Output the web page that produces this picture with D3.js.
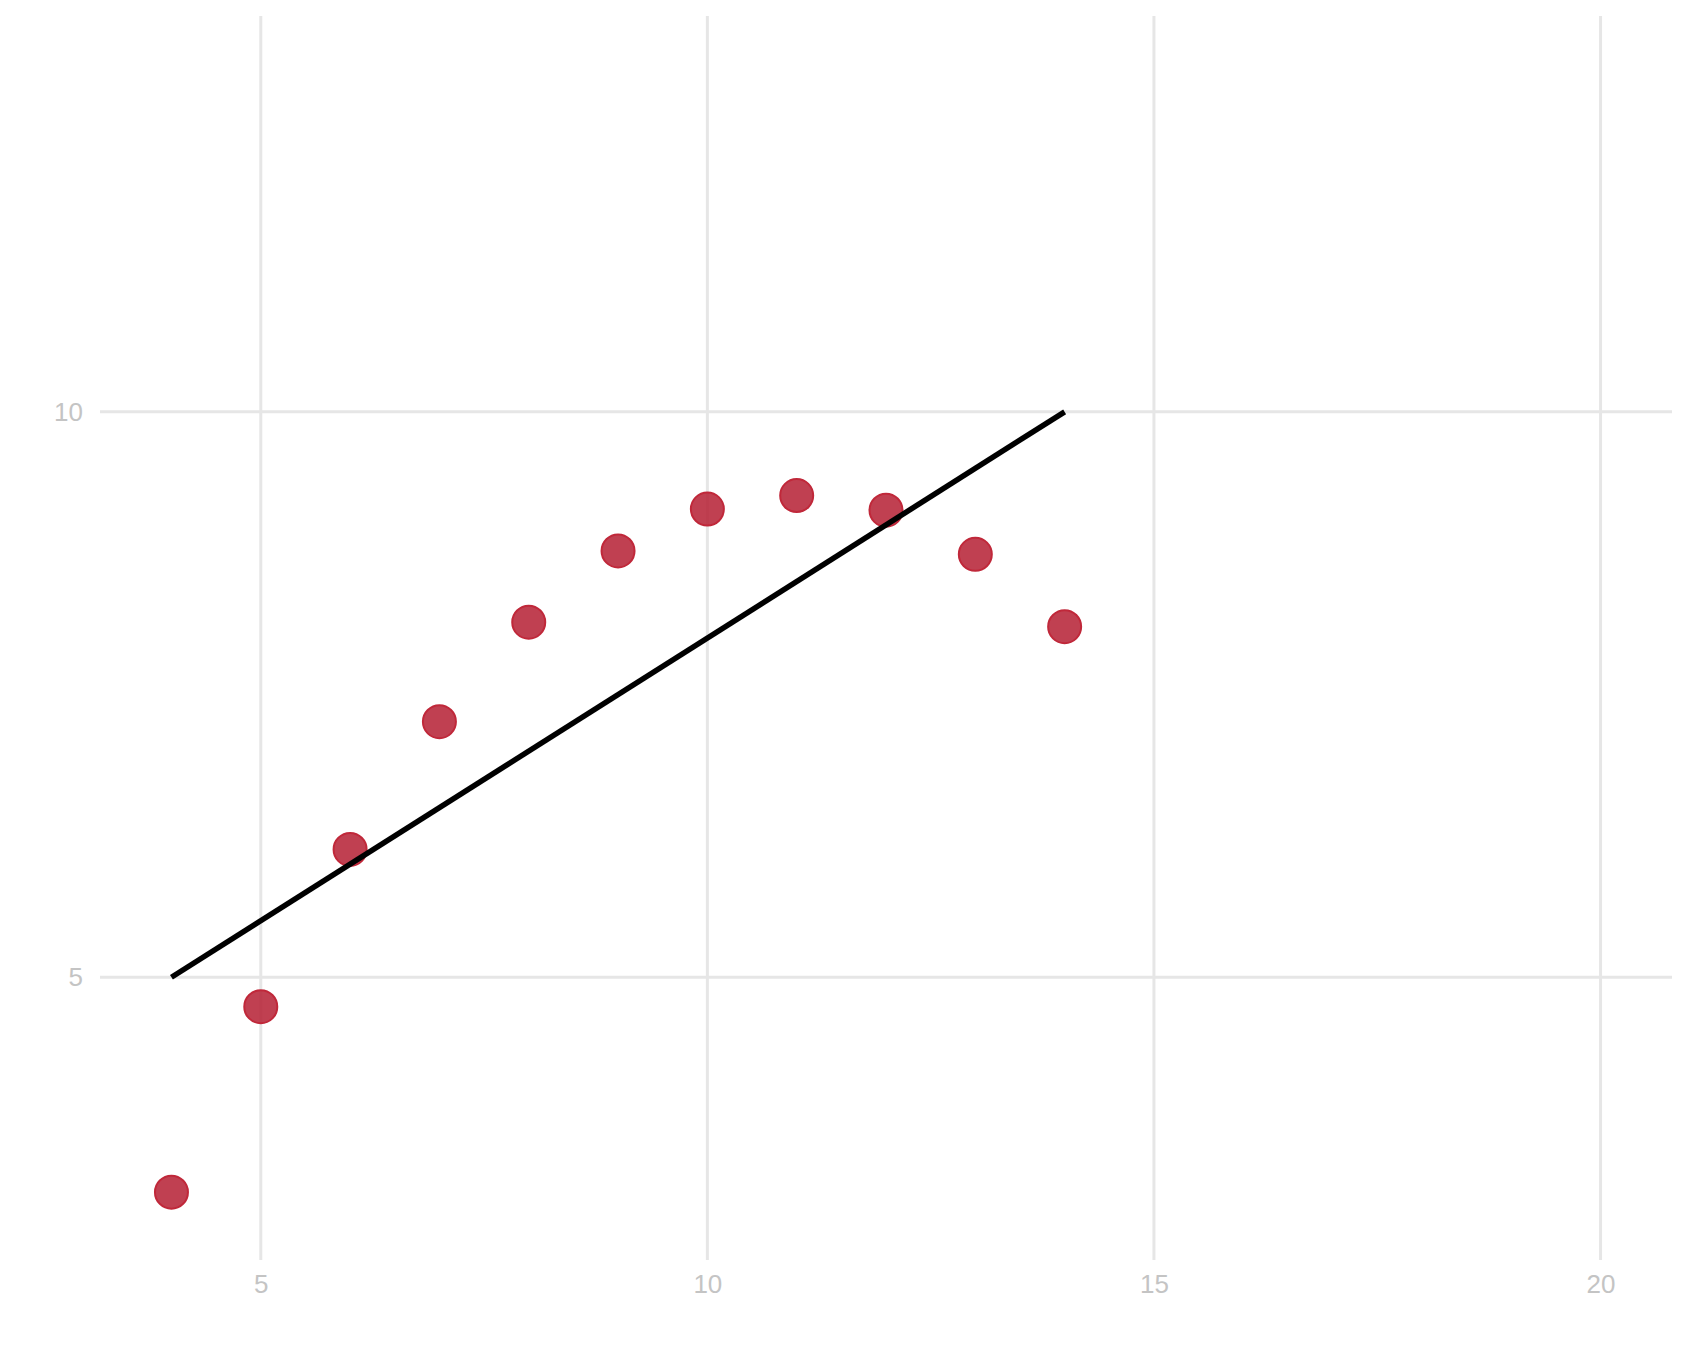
<!DOCTYPE html>
<html>
<head>
<meta charset="utf-8">
<script src="https://cdn.jsdelivr.net/npm/d3@7"></script>
<style>
  body { margin: 0; background: #fff; }
  .tick text { font-family: "Liberation Sans", Arial, sans-serif; font-size: 26px; fill: #c4c4c4; }
</style>
</head>
<body>
<div id="chart"></div>
<script>
// data: anscombe set II
var xValues = [4, 5, 6, 7, 8, 9, 10, 11, 12, 13, 14]
var yValues = [3.10, 4.74, 6.13, 7.26, 8.14, 8.77, 9.14, 9.26, 9.13, 8.74, 8.10]
var fitX = [4, 14]
var fitY = [5, 10]
var xTicks = [5, 10, 15, 20]
var yTicks = [5, 10]

var width = 1688
var height = 1350
var plot = { left: 100, right: 1672, top: 16, bottom: 1260 }

var svg = d3.select('#chart')
  .append('svg')
  .attr('width', width)
  .attr('height', height)

var xScale = d3.scaleLinear().domain([3.2, 20.8]).range([plot.left, plot.right])
var yScale = d3.scaleLinear().domain([2.5, 13.5]).range([plot.bottom, plot.top])

// grid lines
svg.append('g')
  .selectAll('line')
  .data(xTicks)
  .enter()
  .append('line')
  .attr('x1', function (d) { return xScale(d) })
  .attr('x2', function (d) { return xScale(d) })
  .attr('y1', plot.top)
  .attr('y2', plot.bottom)
  .attr('stroke', '#e6e6e6')
  .attr('stroke-width', 3)

svg.append('g')
  .selectAll('line')
  .data(yTicks)
  .enter()
  .append('line')
  .attr('x1', plot.left)
  .attr('x2', plot.right)
  .attr('y1', function (d) { return yScale(d) })
  .attr('y2', function (d) { return yScale(d) })
  .attr('stroke', '#e6e6e6')
  .attr('stroke-width', 3)

// axes, labels only
var xAxis = d3.axisBottom(xScale).tickValues(xTicks).tickSize(0).tickPadding(15)
svg.append('g')
  .attr('transform', 'translate(0,' + plot.bottom + ')')
  .call(xAxis)
  .call(function (g) { g.select('.domain').remove() })

var yAxis = d3.axisLeft(yScale).tickValues(yTicks).tickSize(0).tickPadding(17)
svg.append('g')
  .attr('transform', 'translate(' + plot.left + ',0)')
  .call(yAxis)
  .call(function (g) { g.select('.domain').remove() })

// points
var points = xValues.map(function (x, i) { return { x: x, y: yValues[i] } })
svg.append('g')
  .selectAll('circle')
  .data(points)
  .enter()
  .append('circle')
  .attr('cx', function (d) { return xScale(d.x) })
  .attr('cy', function (d) { return yScale(d.y) })
  .attr('r', 16.5)
  .attr('fill', '#b51f33')
  .attr('fill-opacity', 0.85)
  .attr('stroke', '#c0283a')
  .attr('stroke-width', 2)

// regression line
var fit = fitX.map(function (x, i) { return [x, fitY[i]] })
svg.append('path')
  .datum(fit)
  .attr('d', d3.line()
    .x(function (d) { return xScale(d[0]) })
    .y(function (d) { return yScale(d[1]) }))
  .attr('stroke', '#000')
  .attr('stroke-width', 5.5)
  .attr('fill', 'none')
</script>
</body>
</html>
